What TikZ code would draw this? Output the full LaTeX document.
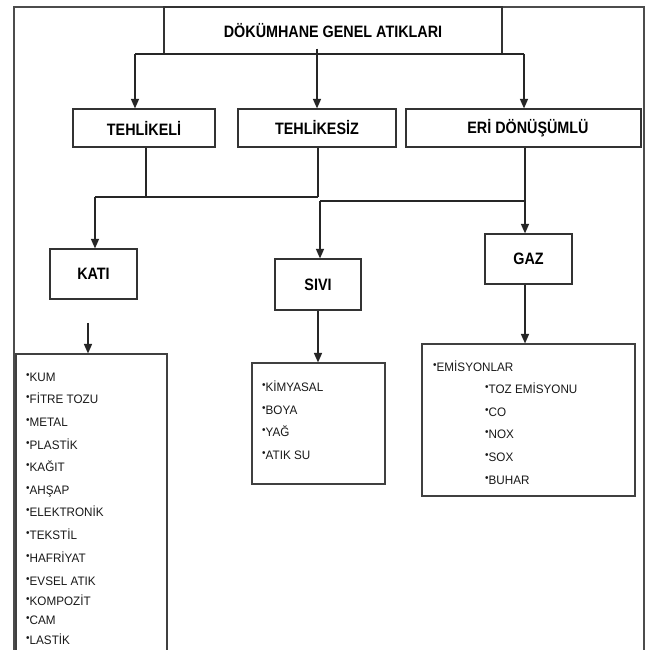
\documentclass[tikz,border=0pt]{standalone}
\usepackage{fontspec}
\setmainfont{Liberation Sans}
\newfontfamily\hdfont[FakeStretch=0.87]{Liberation Sans}
\newfontfamily\itfont[FakeStretch=0.95]{Liberation Sans}
\usetikzlibrary{arrows.meta}
\newcommand\bul{\raisebox{3.0pt}{\fontsize{10.5}{10}\selectfont•}}
\tikzset{
  hbox/.style={draw=black!80, line width=1.2pt, font=\hdfont\fontsize{16.5}{16.5}\selectfont\bfseries, inner sep=0pt, text=black},
  lbox/.style={draw=black!75, line width=1.1pt, inner sep=0pt},
  itm/.style={anchor=base west, inner sep=0pt, font=\itfont\fontsize{12.3}{12}\selectfont, text=black!90},
  conn/.style={draw=black!85, line width=1.4pt},
  arr/.style={conn, -{Triangle[length=9.5pt,width=8pt]}},
}
\begin{document}
\begin{tikzpicture}[x=1pt,y=-1pt]
\useasboundingbox (0,0) rectangle (657,650);
\clip (0,0) rectangle (657,650);
\fill[white] (0,0) rectangle (657,650);
% outer frame
\draw[draw=black!70, line width=1.2pt] (14,7) rectangle (644,670);
% header boxes
\node[hbox, minimum width=338pt, minimum height=47pt] (title) at (333,30.5) {DÖKÜMHANE GENEL ATIKLARI};
\node[hbox, minimum width=142pt, minimum height=38pt] (teh) at (144,128) {TEHLİKELİ};
\node[hbox, minimum width=158pt, minimum height=38pt] (tsz) at (317,128) {TEHLİKESİZ};
\node[hbox, minimum width=235pt, minimum height=38pt] (eri) at (523.5,128) {\hspace*{9pt}ERİ DÖNÜŞÜMLÜ};
\node[hbox, minimum width=87pt, minimum height=50pt] (kati) at (93.5,274) {KATI};
\node[hbox, minimum width=86pt, minimum height=51pt] (sivi) at (318,284.5) {SIVI};
\node[hbox, minimum width=87pt, minimum height=50pt] (gaz) at (528.5,259) {GAZ};
% list boxes
\node[lbox, minimum width=151pt, minimum height=316pt] (katil) at (91.5,512) {};
\node[lbox, minimum width=133pt, minimum height=121pt] (sivil) at (318.5,423.5) {};
\node[lbox, minimum width=213pt, minimum height=152pt] (gazl) at (528.5,420) {};
% connectors level 1
\coordinate (b1) at (135,54);
\coordinate (b3) at (524,54);
\draw[conn] (b1) -- (b3);
\draw[arr] (b1) -- (b1 |- teh.north);
\draw[arr] (b3) -- (b3 |- eri.north);
\draw[arr] ([yshift=6pt]title.south -| tsz.north) -- (tsz.north);
% connectors level 2
\coordinate (j0) at (95,197);
\coordinate (j1) at (146,197);
\coordinate (j2) at (318,197);
\draw[conn] (teh.south -| j1) -- (j1);
\draw[conn] (tsz.south -| j2) -- (j2);
\draw[conn] (j0) -- (j2);
\draw[arr] (j0) -- (j0 |- kati.north);
\coordinate (k0) at (320,201);
\coordinate (k1) at (525,201);
\draw[arr] (eri.south -| k1) -- (k1 |- gaz.north);
\draw[conn] (k0) -- (k1);
\draw[arr] (k0) -- (k0 |- sivi.north);
% connectors level 3
\coordinate (ks) at (88,323);
\draw[arr] (ks) -- (ks |- katil.north);
\draw[arr] (sivi.south) -- (sivi.south |- sivil.north);
\draw[arr] (gaz.south -| k1) -- (k1 |- gazl.north);
% KATI items
\foreach \t/\y [count=\i] in {KUM/377, FİTRE TOZU/399, METAL/422, PLASTİK/445, KAĞIT/467, AHŞAP/490, ELEKTRONİK/512, TEKSTİL/535, HAFRİYAT/558, EVSEL ATIK/581, KOMPOZİT/601, CAM/620, LASTİK/640}
  \node[itm] (ka\i) at (26,\y+4.4) {\bul\t};
% SIVI items
\foreach \t/\y [count=\i] in {KİMYASAL/387, BOYA/410, YAĞ/432, ATIK SU/455}
  \node[itm] (si\i) at (262,\y+4.4) {\bul\t};
% GAZ items
\node[itm] (ga0) at (433,371.4) {\bul EMİSYONLAR};
\foreach \t/\y [count=\i] in {TOZ EMİSYONU/389, CO/412, NOX/434, SOX/457, BUHAR/480}
  \node[itm] (ga\i) at (485,\y+4.4) {\bul\t};
\end{tikzpicture}
\end{document}
